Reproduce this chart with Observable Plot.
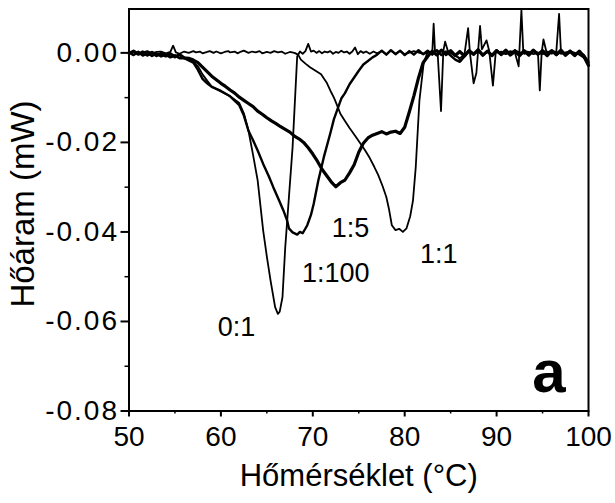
<!DOCTYPE html>
<html><head><meta charset="utf-8">
<script src="https://cdn.jsdelivr.net/npm/d3@7"></script>
<script src="https://cdn.jsdelivr.net/npm/@observablehq/plot@0.6"></script>
<style>body{margin:0;background:#fff}</style>
</head><body><div id="chart"></div>
<script>
// series: [temperature °C, heat flow mW]
const curve01 = [[50,0.0002],[50.5,-0.0004],[51,0.0003],[51.5,-0.0005],[52,0.0000],[52.5,-0.0006],[53,-0.0001],[53.5,-0.0007],[54,-0.0002],[54.5,-0.0009],[55,-0.0005],[55.5,-0.0011],[56,-0.0010],[56.5,-0.0016],[57,-0.0020],[57.5,-0.0030],[58,-0.0048],[58.5,-0.0062],[59,-0.0075],[60,-0.0086],[61,-0.0097],[62,-0.0112],[62.5,-0.0135],[63,-0.0174],[63.5,-0.0228],[64,-0.0285],[64.6,-0.0397],[65,-0.0455],[65.4,-0.0508],[65.9,-0.0568],[66.2,-0.0583],[66.4,-0.0578],[66.7,-0.0546],[67.0,-0.0435],[67.4,-0.0323],[67.8,-0.0211],[68.3,-0.0008],[68.6,0.0003],[68.9,-0.0002],[69.2,0.0004],[69.5,0.0020],[69.8,0.0003],[70.1,0.0005],[70.4,0.0000],[70.7,0.0004],[71,-0.0001],[71.3,0.0003],[71.6,0.0001],[71.9,0.0004],[72.2,-0.0002],[72.5,0.0002],[72.8,0.0000],[73.1,0.0005],[73.4,0.0001],[73.7,0.0003],[74,-0.0002],[74.3,0.0003],[74.6,0.0012],[74.9,-0.0003],[75.2,0.0004],[75.5,0.0000],[75.8,0.0003],[76.2,-0.0002],[76.6,0.0003],[77,-0.0001],[77.5,0.0004],[78,-0.0003],[78.5,0.0005],[79,-0.0002],[79.5,0.0004],[80,-0.0003],[81,0.0004],[82,-0.0002],[83,0.0003],[83.5,-0.0004],[84,0.0005],[84.5,-0.0003],[85,0.0004],[85.5,-0.0006],[86,-0.0012],[86.5,-0.0004],[87,0.0005],[87.5,-0.0003],[88,0.0006],[88.5,-0.0004],[89,0.0003],[89.5,-0.0005],[90,0.0004],[91,-0.0003],[92,0.0005],[93,-0.0002],[94,0.0004],[95,-0.0003],[96,0.0005],[97,-0.0002],[98,0.0004],[99,-0.0004],[100,-0.0018]];
const curve1100 = [[50,0.0001],[50.5,-0.0005],[51,0.0002],[51.5,-0.0006],[52,-0.0001],[52.5,-0.0007],[53,-0.0002],[53.5,-0.0008],[54,-0.0004],[54.5,-0.0010],[55,-0.0006],[55.5,-0.0012],[56,-0.0012],[56.5,-0.0017],[57,-0.0022],[57.5,-0.0038],[58,-0.0058],[58.5,-0.0068],[59,-0.0076],[60,-0.0085],[61,-0.0097],[62,-0.0117],[62.5,-0.0140],[63,-0.0174],[63.5,-0.0195],[64,-0.0218],[64.6,-0.0248],[65.2,-0.0275],[65.7,-0.0300],[66.3,-0.0328],[66.8,-0.0352],[67.2,-0.0374],[67.4,-0.0392],[67.8,-0.0401],[68.3,-0.0406],[68.6,-0.0400],[68.9,-0.0403],[69.4,-0.0385],[69.8,-0.0362],[70.1,-0.0337],[70.6,-0.0285],[71.2,-0.0233],[71.9,-0.0180],[72.3,-0.0148],[72.7,-0.0125],[73.1,-0.0102],[73.5,-0.0090],[74.0,-0.0070],[74.5,-0.0055],[75.0,-0.0040],[75.5,-0.0026],[76.0,-0.0018],[76.5,-0.0010],[77.0,-0.0004],[77.5,0.0005],[78,-0.0004],[78.5,0.0006],[79,-0.0003],[79.5,0.0005],[80,-0.0005],[80.5,0.0004],[81,-0.0004],[81.5,0.0006],[82,-0.0003],[82.5,0.0005],[83,-0.0004],[83.5,0.0006],[84,-0.0005],[84.5,0.0003],[85,-0.0006],[85.5,-0.0015],[86,-0.0020],[86.5,-0.0008],[87,0.0004],[87.5,-0.0004],[88,0.0005],[88.5,-0.0006],[89,0.0004],[89.5,-0.0005],[90,0.0006],[90.5,-0.0004],[91,0.0005],[91.5,-0.0003],[92,0.0006],[92.5,-0.0005],[93,0.0004],[93.5,-0.0006],[94,0.0005],[94.5,-0.0004],[95,0.0006],[95.5,-0.0003],[96,0.0005],[96.5,-0.0005],[97,0.0004],[97.5,-0.0006],[98,0.0005],[98.5,-0.0004],[99,0.0003],[99.5,-0.0007],[100,-0.0022]];
const curve15 = [[50,-0.0001],[50.5,0.0004],[51,-0.0003],[51.5,0.0002],[52,-0.0005],[52.5,0.0001],[53,-0.0006],[53.5,-0.0001],[54,-0.0007],[54.5,-0.0002],[55,-0.0009],[55.5,-0.0004],[56,-0.0011],[56.5,-0.0012],[57,-0.0016],[57.5,-0.0022],[58,-0.0032],[58.5,-0.0042],[59,-0.0052],[59.5,-0.0060],[60,-0.0068],[60.5,-0.0075],[61,-0.0083],[61.5,-0.0090],[62,-0.0099],[62.5,-0.0106],[63,-0.0113],[63.5,-0.0120],[64,-0.0130],[64.5,-0.0137],[65,-0.0145],[65.5,-0.0152],[66,-0.0158],[66.5,-0.0165],[67,-0.0171],[67.5,-0.0177],[68,-0.0186],[68.5,-0.0192],[69,-0.0200],[69.5,-0.0212],[70,-0.0226],[70.5,-0.0242],[71,-0.0260],[71.5,-0.0274],[72,-0.0288],[72.5,-0.0299],[73,-0.0290],[73.5,-0.0284],[74,-0.0268],[74.5,-0.0250],[75,-0.0222],[75.5,-0.0202],[76,-0.0190],[76.5,-0.0184],[77,-0.0180],[77.5,-0.0176],[78,-0.0181],[78.5,-0.0177],[79,-0.0175],[79.5,-0.0180],[80,-0.0166],[80.5,-0.0132],[81,-0.0096],[81.5,-0.0056],[82,-0.0022],[82.5,-0.0008],[83,0.0004],[83.5,-0.0005],[84,0.0006],[84.5,-0.0004],[85,0.0005],[85.5,-0.0006],[86,0.0003],[86.5,-0.0007],[87,0.0005],[87.5,-0.0003],[88,0.0007],[88.5,-0.0005],[89,0.0004],[89.5,-0.0006],[90,0.0005],[90.5,-0.0004],[91,0.0006],[91.5,-0.0005],[92,0.0003],[92.5,-0.0006],[93,0.0005],[93.5,-0.0004],[94,0.0006],[94.5,-0.0003],[95,0.0004],[95.5,-0.0006],[96,0.0005],[96.5,-0.0004],[97,0.0006],[97.5,-0.0005],[98,0.0003],[98.5,-0.0006],[99,0.0004],[99.5,-0.0008],[100,-0.0028]];
const curve11 = [[50,0.0000],[50.5,0.0003],[51,-0.0002],[51.5,0.0001],[52,0.0004],[52.5,-0.0001],[53,0.0002],[53.5,0.0003],[54,-0.0001],[54.5,0.0002],[54.8,0.0016],[55.1,0.0001],[55.5,-0.0002],[56,0.0003],[56.5,0.0000],[57,0.0004],[57.3,0.0001],[57.7,0.0003],[58,-0.0001],[58.5,0.0002],[58.8,0.0004],[59.2,0.0000],[59.5,0.0003],[60,-0.0001],[60.4,0.0002],[60.8,0.0004],[61,0.0001],[61.5,0.0003],[61.8,-0.0001],[62.2,0.0003],[62.5,0.0005],[63,0.0000],[63.4,0.0003],[63.8,0.0001],[64.2,0.0004],[64.5,-0.0001],[65,0.0002],[65.4,0.0000],[65.8,0.0004],[66.2,0.0001],[66.6,0.0003],[67,-0.0002],[67.5,0.0002],[68,0.0000],[68.4,-0.0004],[68.7,-0.0015],[69.2,-0.0024],[69.7,-0.0032],[70.3,-0.0040],[70.9,-0.0048],[71.5,-0.0066],[72.0,-0.0088],[72.3,-0.0100],[72.7,-0.0120],[73.0,-0.0136],[73.5,-0.0152],[74.0,-0.0168],[74.6,-0.0185],[75.2,-0.0203],[75.7,-0.0218],[76.2,-0.0235],[76.7,-0.0255],[77.1,-0.0272],[77.6,-0.0298],[78.0,-0.0322],[78.3,-0.0350],[78.6,-0.0385],[79.0,-0.0396],[79.4,-0.0393],[79.8,-0.0400],[80.2,-0.0392],[80.6,-0.0365],[80.9,-0.0330],[81.2,-0.0256],[81.6,-0.0107],[82.05,-0.0025],[82.5,0.0003],[83.0,0.0000],[83.15,0.0065],[83.3,0.0002],[83.6,-0.0006],[83.95,-0.0130],[84.2,0.0004],[84.4,0.0025],[84.7,0.0004],[85.2,-0.0003],[85.8,-0.0010],[86.1,-0.0018],[86.5,-0.0004],[86.9,0.0055],[87.1,0.0000],[87.5,-0.0068],[87.8,-0.0045],[88.2,0.0060],[88.4,0.0008],[88.9,0.0028],[89.2,0.0004],[89.6,-0.0073],[89.9,0.0000],[90.5,0.0003],[91.0,-0.0002],[91.5,0.0004],[92.0,0.0000],[92.4,-0.0030],[92.7,0.0095],[92.9,0.0004],[93.5,0.0002],[94.0,-0.0003],[94.5,0.0000],[94.7,-0.0084],[94.9,0.0000],[95.1,0.0030],[95.4,0.0004],[96.0,-0.0002],[96.5,0.0003],[96.8,0.0087],[97.0,0.0003],[97.5,-0.0001],[98.0,0.0004],[98.5,-0.0005],[99.0,0.0002],[99.5,-0.0004],[100,-0.0020]];

const seriesNames = ["0:1", "1:100", "1:5", "1:1"];
const labelTemps = [61.7, 72.5, 74.1, 83.7];
const labelHeats = [-0.0613, -0.0493, -0.0392, -0.0450];
const panelLetter = "a";
const xTicks = [50, 60, 70, 80, 90, 100];
const xMinor = [55, 65, 75, 85, 95];
const yTicks = [0, -0.02, -0.04, -0.06, -0.08];
const yMinor = [-0.01, -0.03, -0.05, -0.07];
const xTitle = "Hőmérséklet (°C)";
const yTitle = "Hőáram (mW)";

const toRows = a => a.map(([t, h]) => ({t, h}));
const lineStyle = {x: "t", y: "h", stroke: "black", strokeLinejoin: "round", strokeLinecap: "round"};
const labels = seriesNames.map((s, i) => ({s, t: labelTemps[i], h: labelHeats[i]}));

const chart = Plot.plot({
  width: 615, height: 503,
  marginLeft: 128.5, marginRight: 27, marginTop: 8.5, marginBottom: 92.5,
  style: {fontFamily: "'Liberation Sans', Arial, sans-serif", background: "white", color: "black", overflow: "visible"},
  x: {domain: [50, 100]},
  y: {domain: [-0.08, 0.0098]},
  marks: [
    Plot.line(toRows(curve15), {...lineStyle, strokeWidth: 3.2}),
    Plot.line(toRows(curve1100), {...lineStyle, strokeWidth: 2.4}),
    Plot.line(toRows(curve01), {...lineStyle, strokeWidth: 1.8}),
    Plot.line(toRows(curve11), {...lineStyle, strokeWidth: 1.8}),
    Plot.axisX({ticks: xTicks, tickSize: 6, tickPadding: 9, fontSize: 28, label: null, strokeWidth: 2}),
    Plot.axisX({ticks: xMinor, tickSize: 3, tickFormat: () => "", label: null, strokeWidth: 1.5}),
    Plot.axisY({ticks: yTicks, tickSize: 8, tickPadding: 2, fontSize: 28, label: null, strokeWidth: 2, tickFormat: d => d.toFixed(2)}),
    Plot.axisY({ticks: yMinor, tickSize: 4, tickFormat: () => "", label: null, strokeWidth: 1.5}),
    Plot.frame({strokeWidth: 2}),
    Plot.text(labels, {x: "t", y: "h", text: "s", fontSize: 27, fill: "black"}),
    Plot.text([panelLetter], {x: 95.7, y: -0.0714, text: d => d, fontSize: 60, fontWeight: "bold", fill: "black"}),
    Plot.text([xTitle], {frameAnchor: "bottom", textAnchor: "middle", lineAnchor: "middle", dy: 65, text: d => d, fontSize: 31, fill: "black"}),
    Plot.text([yTitle], {frameAnchor: "left", textAnchor: "middle", lineAnchor: "middle", dx: -106, dy: -6, rotate: -90, text: d => d, fontSize: 33, fill: "black"})
  ]
});
document.getElementById("chart").append(chart);
d3.select(chart).selectAll("[aria-label='y-axis tick label'] text").style("letter-spacing", "2px");
</script>
</body></html>
